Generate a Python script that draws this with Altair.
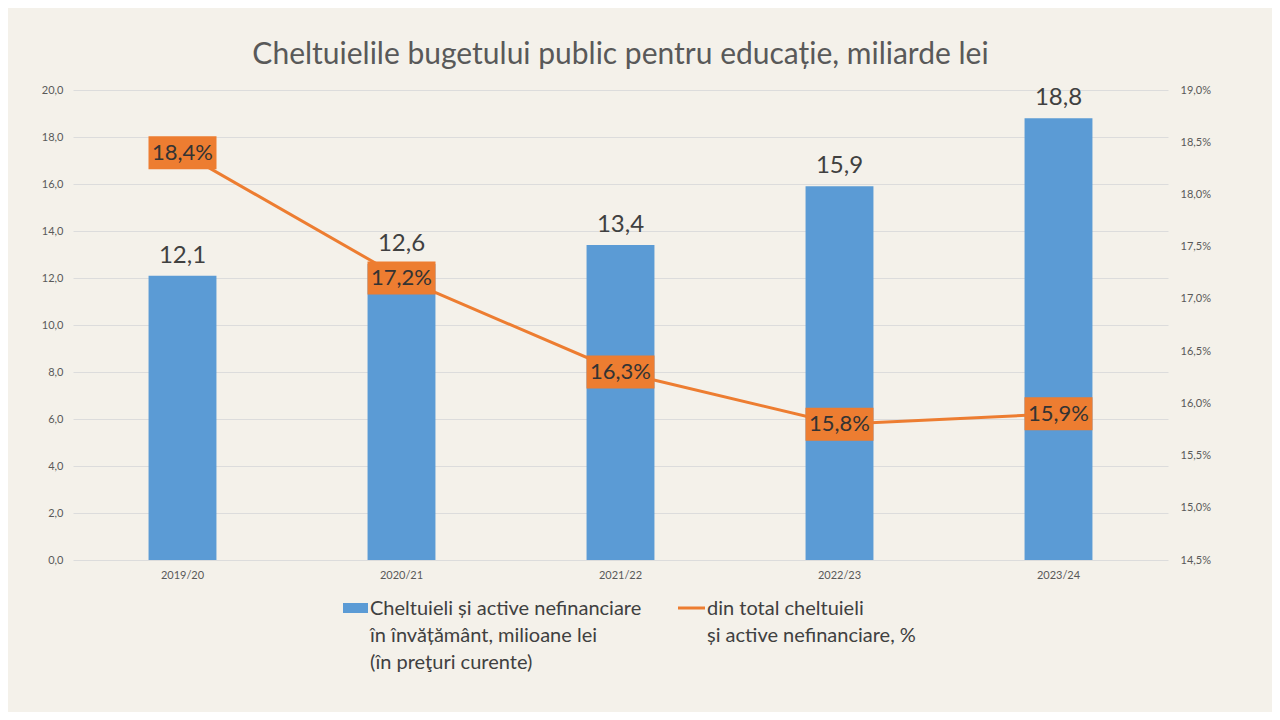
import altair as alt
import pandas as pd

years = ["2019/20", "2020/21", "2021/22", "2022/23", "2023/24"]
spending = [12.1, 12.6, 13.4, 15.9, 18.8]
share_pct = [18.4, 17.2, 16.3, 15.8, 15.9]

title_text = "Cheltuielile bugetului public pentru educație, miliarde lei"
legend_bar = ["Cheltuieli și active nefinanciare", "în învățământ, milioane lei", "(în preţuri curente)"]
legend_line = ["din total cheltuieli", "și active nefinanciare, %"]

BLUE = "#5B9BD5"
ORANGE = "#ED7D31"
FONT = "Lato"
W, H = 1095, 470

df = pd.DataFrame({"year": years, "spending": spending, "share": share_pct})
one = pd.DataFrame({"k": [0]})

xenc = alt.X("year:N", sort=years, title=None,
             scale=alt.Scale(paddingInner=0.69, paddingOuter=0.345),
             axis=alt.Axis(labelAngle=0, ticks=False, domain=False, labelFontSize=11,
                           labelColor="#595959", labelPadding=9, grid=False))

base = alt.Chart(df)

bars = base.mark_bar(color=BLUE).encode(
    x=xenc,
    y=alt.Y("spending:Q", title=None,
            scale=alt.Scale(domain=[0, 20]),
            axis=alt.Axis(values=[0, 2, 4, 6, 8, 10, 12, 14, 16, 18, 20],
                          labelExpr="replace(format(datum.value, '.1f'), '.', ',')",
                          ticks=False, domain=False, labelFontSize=11, labelColor="#595959",
                          labelPadding=10, gridColor="#dcdcdc", gridWidth=1)),
)
bar_text = base.transform_calculate(
    lbl="replace(format(datum.spending, '.1f'), '.', ',')"
).mark_text(baseline="bottom", dy=-8, fontSize=24, color="#404040", font=FONT).encode(
    x=xenc, y=alt.Y("spending:Q", scale=alt.Scale(domain=[0, 20])), text="lbl:N"
)
left = alt.layer(bars, bar_text)

yr = alt.Y("share:Q", title=None, scale=alt.Scale(domain=[14.5, 19]),
           axis=alt.Axis(orient="right", values=[14.5, 15, 15.5, 16, 16.5, 17, 17.5, 18, 18.5, 19],
                         labelExpr="replace(format(datum.value, '.1f'), '.', ',') + '%'",
                         ticks=False, domain=False, grid=False, labelFontSize=11,
                         labelColor="#595959", labelPadding=12))

line = base.mark_line(color=ORANGE, strokeWidth=3).encode(x=xenc, y=yr)
boxes = base.mark_point(
    shape="M-1,-0.485L1,-0.485L1,0.485L-1,0.485Z", filled=True, opacity=1,
    color=ORANGE, size=4624
).encode(x=xenc, y=yr)
box_text = base.transform_calculate(
    lbl="replace(format(datum.share, '.1f'), '.', ',') + '%'"
).mark_text(fontSize=22, color="#333333", font=FONT, baseline="middle").encode(
    x=xenc, y=yr, text="lbl:N"
)
right = alt.layer(line, boxes, box_text)

# manual legend below the plot
leg = alt.Chart(one)
leg_rect = leg.mark_rect(color=BLUE).encode(
    x=alt.value(270), x2=alt.value(295), y=alt.value(513), y2=alt.value(523))
leg_t1 = leg.mark_text(text=legend_bar, align="left", baseline="top", fontSize=20,
                       lineHeight=27, color="#404040", font=FONT).encode(
    x=alt.value(297), y=alt.value(509))
leg_rule = leg.mark_rule(color=ORANGE, strokeWidth=3).encode(
    x=alt.value(605), x2=alt.value(632), y=alt.value(518))
leg_t2 = leg.mark_text(text=legend_line, align="left", baseline="top", fontSize=20,
                       lineHeight=27, color="#404040", font=FONT).encode(
    x=alt.value(634), y=alt.value(509))
legend = alt.layer(leg_rect, leg_t1, leg_rule, leg_t2)

chart = alt.layer(left, right, legend).resolve_scale(y="independent").properties(
    width=W, height=H,
    title=alt.TitleParams(title_text, fontSize=30, font=FONT, color="#595959",
                          fontWeight="normal", anchor="middle", offset=14),
    padding={"left": 65, "top": 82, "right": 104, "bottom": 152},
    autosize=alt.AutoSizeParams(type="none"),
    background="#f4f1ea",
).configure_view(stroke=None).configure_axis(labelFont=FONT)

chart.save("out.html", embed_options={"renderer": "svg", "actions": False})
